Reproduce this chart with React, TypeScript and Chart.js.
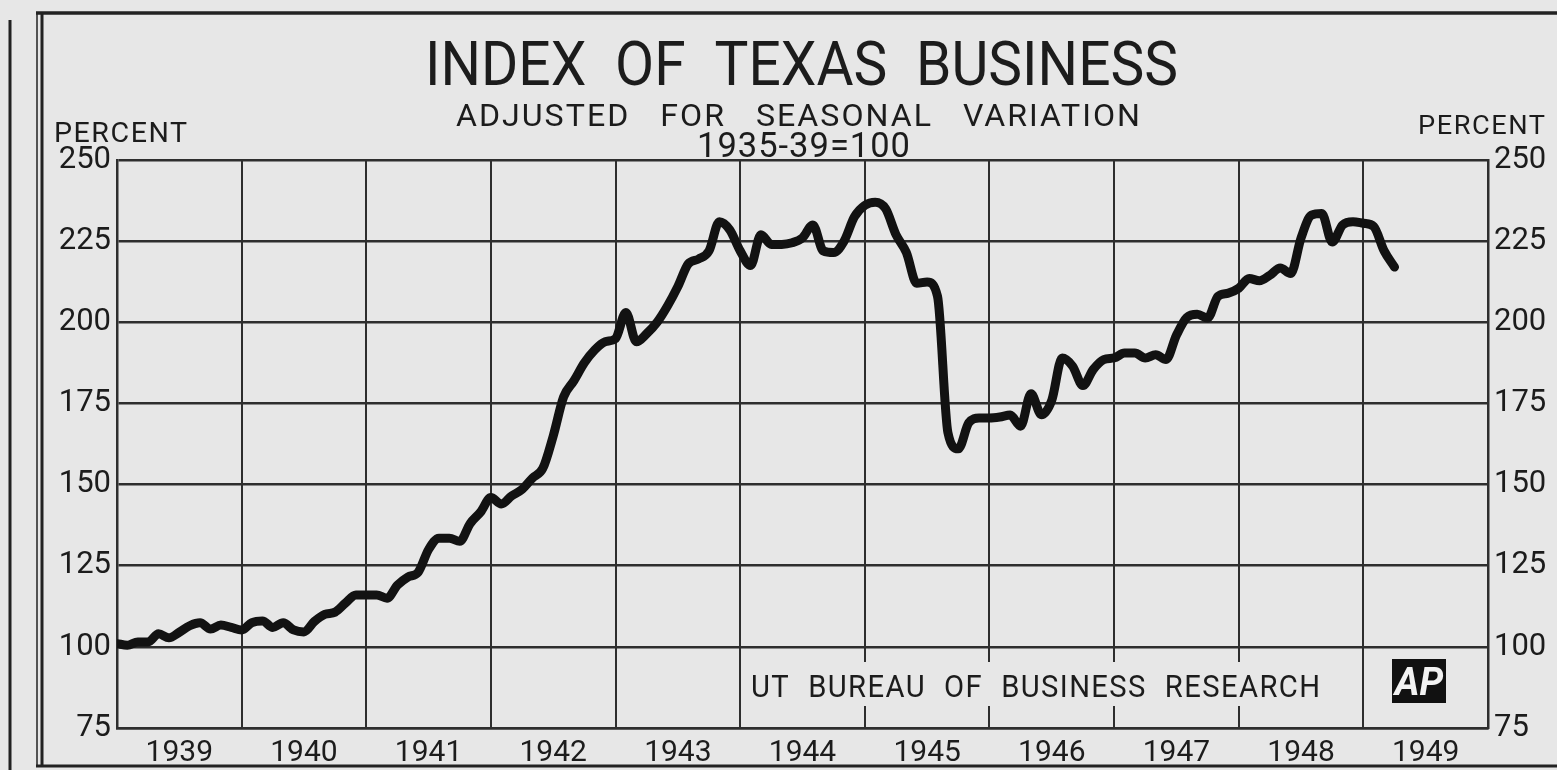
import React, { useEffect, useRef } from 'react';
import { Chart, registerables } from 'chart.js';

Chart.register(...registerables);

// ---- Data (monthly index, Jan 1939 .. Apr 1949) ----
const YEAR_LABELS = ['1939', '1940', '1941', '1942', '1943', '1944', '1945', '1946', '1947', '1948', '1949'];

const index1939 = [101, 100.5, 101.5, 101.5, 104, 102.8, 104.5, 106.5, 107.4, 105.5, 106.7, 106];
const index1940 = [105.2, 107.5, 108, 106, 107.4, 105.2, 104.6, 107.8, 110, 110.7, 113.5, 116];
const index1941 = [116, 116, 115, 119, 121.5, 123, 130, 133.5, 133.5, 132.5, 138, 141.5];
const index1942 = [146, 144, 146.5, 148.5, 152, 155, 165, 177, 182, 187.5, 191.5, 194];
const index1943 = [195, 203, 194, 196.5, 200, 205, 211, 218, 219.5, 222, 231, 228.5];
const index1944 = [222, 217.5, 227, 224, 224, 224.5, 226, 230, 222, 221.5, 225, 232.5];
const index1945 = [236, 237, 235, 227, 221.5, 212, 212.4, 208, 166, 161, 169, 170.5];
const index1946 = [170.5, 170.8, 171.4, 168, 178, 171.5, 176, 189, 186.5, 180.5, 185.5, 188.5];
const index1947 = [189, 190.5, 190.5, 189, 190, 188.5, 196, 201.5, 202.5, 201.3, 208, 209];
const index1948 = [210.5, 213.5, 212.8, 214.5, 216.7, 215, 226, 233, 233.5, 224.7, 230, 231];
const index1949 = [230.5, 229.5, 222, 217];

const SERIES = [
  ...index1939, ...index1940, ...index1941, ...index1942, ...index1943, ...index1944,
  ...index1945, ...index1946, ...index1947, ...index1948, ...index1949,
];

const Y_MIN = 75;
const Y_MAX = 250;
const Y_STEP = 25;

const TITLE = 'INDEX OF TEXAS BUSINESS';
const SUBTITLE = 'ADJUSTED FOR SEASONAL VARIATION';
const BASE_NOTE = '1935-39=100';
const UNIT = 'PERCENT';
const SOURCE = 'UT BUREAU OF BUSINESS RESEARCH';
const LOGO = 'AP';

// ---- Style ----
const BG = '#e7e7e7';
const INK = '#1c1c1c';
const GRID = '#2e2e2e';
const FONT = 'Roboto, "DejaVu Sans", sans-serif';

// Draws one string so that it spans x0..x1, with given extra letter / word spacing.
function fitText(
  ctx: CanvasRenderingContext2D, text: string, x0: number, x1: number, baseline: number,
  size: number, ls = 0, ws = 0,
) {
  ctx.save();
  ctx.font = `400 ${size}px ${FONT}`;
  (ctx as any).letterSpacing = '0px';
  (ctx as any).wordSpacing = '0px';
  const w0 = ctx.measureText(text).width;
  const spaces = text.split(' ').length - 1;
  const w = w0 + ls * (text.length - 1) + ws * spaces;
  const k = (x1 - x0) / w;
  ctx.fillStyle = INK;
  ctx.textAlign = 'left';
  ctx.textBaseline = 'alphabetic';
  (ctx as any).letterSpacing = `${ls}px`;
  (ctx as any).wordSpacing = `${ws}px`;
  ctx.translate(x0, baseline);
  ctx.scale(k, 1);
  ctx.fillText(text, 0, 0);
  ctx.restore();
}

const framePlugin = {
  id: 'frame',
  beforeDraw(chart: any) {
    const ctx: CanvasRenderingContext2D = chart.ctx;
    const W = chart.width;
    const H = chart.height;
    ctx.save();
    ctx.fillStyle = BG;
    ctx.fillRect(0, 0, W, H);
    ctx.strokeStyle = '#222';
    ctx.lineCap = 'butt';
    ctx.lineWidth = 3;
    ctx.beginPath(); ctx.moveTo(10, 20); ctx.lineTo(10, H); ctx.stroke();
    ctx.lineWidth = 1.5;
    ctx.beginPath(); ctx.moveTo(37, 12); ctx.lineTo(37, 767); ctx.stroke();
    ctx.lineWidth = 3;
    ctx.beginPath(); ctx.moveTo(42, 14); ctx.lineTo(42, 766); ctx.stroke();
    ctx.lineWidth = 3.5;
    ctx.beginPath(); ctx.moveTo(36, 13); ctx.lineTo(W, 13); ctx.stroke();
    ctx.lineWidth = 3;
    ctx.beginPath(); ctx.moveTo(36, 766); ctx.lineTo(W, 766); ctx.stroke();
    ctx.restore();
  },
  afterDraw(chart: any) {
    const ctx: CanvasRenderingContext2D = chart.ctx;
    fitText(ctx, TITLE, 425, 1178, 85, 62, 0, 16);
    fitText(ctx, SUBTITLE, 456, 1140, 126, 32, 2, 20);
    fitText(ctx, BASE_NOTE, 697, 910, 157, 35, 1, 0);
    fitText(ctx, UNIT, 54, 187, 142, 28, 1.5, 0);
    fitText(ctx, UNIT, 1418, 1545, 134, 26, 1.5, 0);
    ctx.save();
    ctx.fillStyle = BG;
    ctx.fillRect(744, 662, 590, 44);
    ctx.restore();
    fitText(ctx, SOURCE, 751, 1320, 697, 31, 1.5, 10);
    ctx.save();
    ctx.fillStyle = '#111';
    ctx.fillRect(1392, 659, 54, 44);
    ctx.fillStyle = '#f2f2f2';
    ctx.font = `italic 700 38px ${FONT}`;
    ctx.textAlign = 'center';
    ctx.textBaseline = 'alphabetic';
    ctx.fillText(LOGO, 1419, 695);
    ctx.restore();
  },
};

export default function App() {
  const canvasRef = useRef<HTMLCanvasElement | null>(null);

  useEffect(() => {
    const canvas = canvasRef.current;
    if (!canvas) return;
    const points = SERIES.map((v, i) => ({ x: i, y: v }));
    const tickFont = { family: FONT, size: 31 };
    const chart = new Chart(canvas, {
      type: 'line',
      data: {
        datasets: [
          {
            label: 'Index of Texas Business',
            data: points,
            borderColor: '#121212',
            borderWidth: 9,
            pointRadius: 0,
            cubicInterpolationMode: 'monotone',
            borderJoinStyle: 'round',
            borderCapStyle: 'round',
            fill: false,
          },
        ],
      },
      options: {
        responsive: false,
        animation: false,
        devicePixelRatio: 1,
        layout: { padding: { left: 45, right: 0, top: 160, bottom: 0 } },
        plugins: {
          legend: { display: false },
          tooltip: { enabled: false },
          title: { display: false },
        },
        scales: {
          x: {
            type: 'linear',
            min: 0,
            max: YEAR_LABELS.length * 12,
            afterBuildTicks: (scale: any) => {
              const ticks = [];
              for (let v = 0; v <= YEAR_LABELS.length * 12; v += 6) ticks.push({ value: v });
              scale.ticks = ticks;
            },
            afterFit: (scale: any) => { scale.height = 42; },
            ticks: {
              autoSkip: false,
              maxRotation: 0,
              padding: 7,
              color: INK,
              font: { family: FONT, size: 30 },
              callback: (v: any) => (Number(v) % 12 === 6 ? YEAR_LABELS[(Number(v) - 6) / 12] : ''),
            },
            grid: {
              drawTicks: false,
              lineWidth: 2,
              color: (c: any) => (c.tick && c.tick.value % 12 === 0 ? GRID : 'rgba(0,0,0,0)'),
            },
            border: { display: true, color: GRID, width: 2.5 },
          },
          y: {
            position: 'left',
            min: Y_MIN,
            max: Y_MAX,
            afterFit: (scale: any) => { scale.width = 72; },
            ticks: { stepSize: Y_STEP, padding: 6, color: INK, font: tickFont },
            grid: { drawTicks: false, lineWidth: 2.5, color: GRID },
            border: { display: true, color: GRID, width: 2.5 },
          },
          y2: {
            position: 'right',
            min: Y_MIN,
            max: Y_MAX,
            afterFit: (scale: any) => { scale.width = 69; },
            ticks: { stepSize: Y_STEP, padding: 6, color: INK, font: tickFont },
            grid: { display: false, drawTicks: false },
            border: { display: true, color: GRID, width: 2.5 },
          },
        },
      },
      plugins: [framePlugin],
    } as any);
    return () => chart.destroy();
  }, []);

  return (
    <div style={{ position: 'fixed', top: 0, left: 0, width: 1557, height: 770, background: BG }}>
      <canvas ref={canvasRef} width={1557} height={770} style={{ display: 'block' }} />
    </div>
  );
}
